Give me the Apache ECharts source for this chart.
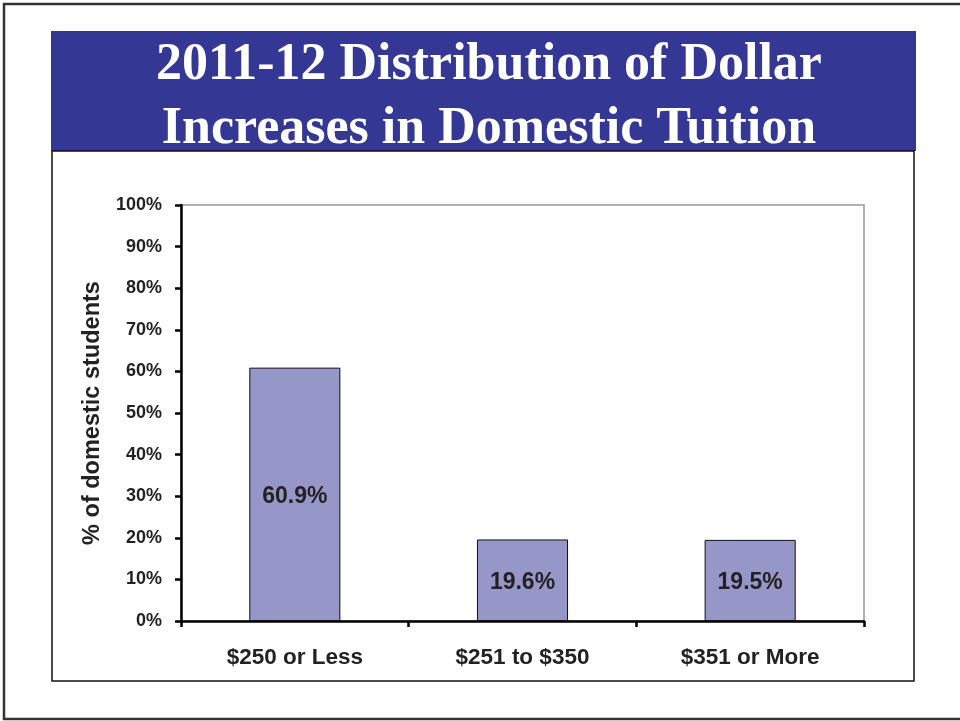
<!DOCTYPE html>
<html>
<head>
<meta charset="utf-8">
<script src="https://cdn.jsdelivr.net/npm/echarts@6/dist/echarts.min.js"></script>
<style>
html,body{margin:0;padding:0;background:#fff;}
#chart{width:960px;height:721px;}
</style>
</head>
<body>
<div id="chart"></div>
<script>
const titleLines = ['2011-12 Distribution of Dollar', 'Increases in Domestic Tuition'];
const categories = ['$250 or Less', '$251 to $350', '$351 or More'];
const values = [60.9, 19.6, 19.5];
const yAxisName = '% of domestic students';

const chart = echarts.init(document.getElementById('chart'), null, {renderer: 'canvas'});
chart.setOption({
  backgroundColor: '#fff',
  animation: false,
  graphic: [
    {type: 'rect', shape: {x: 4, y: 4, width: 975, height: 715}, style: {fill: 'none', stroke: '#333', lineWidth: 2.5}, z: 0},
    {type: 'rect', shape: {x: 51, y: 31, width: 865, height: 120}, style: {fill: '#343894'}, z: 0},
    {type: 'rect', shape: {x: 52, y: 151, width: 862, height: 530}, style: {fill: 'none', stroke: '#111', lineWidth: 1.5}, z: 0}
  ],
  title: {
    text: titleLines.join('\n'),
    left: 484,
    textAlign: 'center',
    top: 29,
    textStyle: {
      fontFamily: 'Liberation Serif',
      fontWeight: 'bold',
      fontSize: 52,
      lineHeight: 64,
      color: '#fff'
    }
  },
  grid: {
    left: 181, top: 205, right: 96, bottom: 100,
    show: true, borderColor: '#999', borderWidth: 1.5, backgroundColor: '#fff'
  },
  xAxis: {
    type: 'category',
    data: categories,
    axisLine: {lineStyle: {color: '#000', width: 2.5}},
    axisTick: {show: true, length: 6, lineStyle: {color: '#000', width: 2.5}},
    axisLabel: {
      margin: 25,
      fontFamily: 'Liberation Sans',
      fontWeight: 'bold',
      fontSize: 22.5,
      color: '#222'
    }
  },
  yAxis: {
    type: 'value',
    min: 0, max: 100, interval: 10,
    name: yAxisName,
    nameLocation: 'middle',
    nameGap: 76,
    nameRotate: 90,
    nameTextStyle: {fontFamily: 'Liberation Sans', fontWeight: 'bold', fontSize: 23.5, color: '#222'},
    axisLine: {show: true, lineStyle: {color: '#000', width: 2.5}},
    axisTick: {show: true, length: 6, lineStyle: {color: '#000', width: 2.5}},
    splitLine: {show: false},
    axisLabel: {
      formatter: '{value}%',
      margin: 19,
      fontFamily: 'Liberation Sans',
      fontWeight: 'bold',
      fontSize: 18,
      color: '#222'
    }
  },
  series: [{
    type: 'bar',
    data: values,
    barWidth: '40%',
    itemStyle: {color: '#9696c8', borderColor: '#111', borderWidth: 1},
    label: {
      show: true,
      position: 'inside',
      offset: [0, 2],
      formatter: '{c}%',
      fontFamily: 'Liberation Sans',
      fontWeight: 'bold',
      fontSize: 23,
      color: '#222'
    }
  }]
});
</script>
</body>
</html>
